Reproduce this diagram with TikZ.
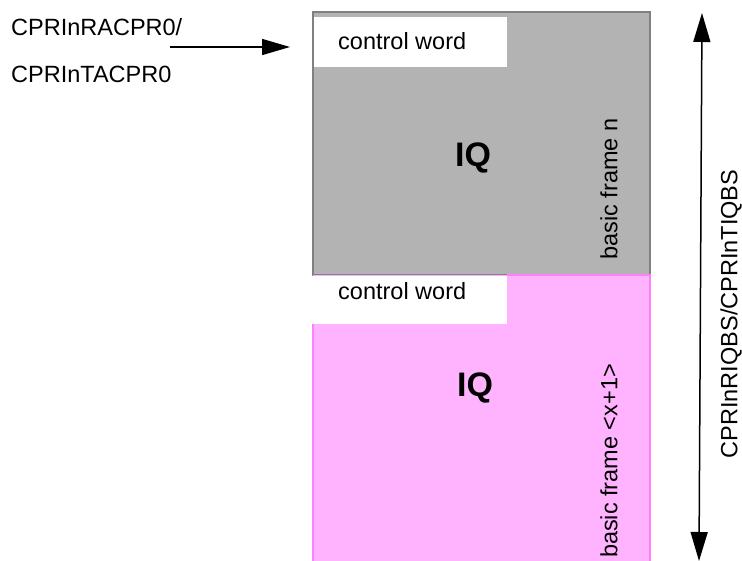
\documentclass[tikz,border=0pt]{standalone}
\usepackage{fontspec}
\setmainfont{Liberation Sans}
\usetikzlibrary{arrows.meta}
\definecolor{grayfill}{HTML}{B3B3B3}
\definecolor{grayline}{HTML}{808080}
\definecolor{pinkfill}{HTML}{FFB3FF}
\definecolor{pinkline}{HTML}{FF80FF}
\begin{document}
\begin{tikzpicture}[x=1pt,y=-1pt,
  lbl/.style={inner sep=0pt,font=\fontsize{23.5}{28}\selectfont},
  iq/.style={inner sep=0pt,font=\fontsize{34}{40}\selectfont\bfseries},
  arr/.style={line width=1.5pt,-{Triangle[length=28pt,width=16pt]}},
  darr/.style={line width=1.5pt,{Triangle[length=29pt,width=17pt]}-{Triangle[length=29pt,width=17pt]}}]
\useasboundingbox (0,0) rectangle (742,561);
% gray frame
\draw[fill=grayfill,draw=grayline,line width=2pt] (313,12) rectangle (650,275);
\fill[white] (314,17) rectangle (507,67);
% pink frame
\fill[pinkfill] (313,275) rectangle (650,562);
\fill[white] (312,276) rectangle (507,324);
\draw[pinkline,line width=1.5pt] (313,562) -- (313,324);
\draw[pinkline,line width=1.5pt] (507,275) -- (650,275) -- (650,562);
% texts
\node[lbl,anchor=base west] (cw1) at (338,50) {control word};
\node[lbl,anchor=base west] (cw2) at (338,300) {control word};
\node[iq,anchor=base west] (iq1) at (455,167) {IQ};
\node[iq,anchor=base west] (iq2) at (457,396) {IQ};
\node[lbl,rotate=90] (bfn) at (609,189) {basic frame n};
\node[lbl,rotate=90] (bfx) at (609,461) {basic frame <x+1>};
\node[lbl,anchor=base west] (ra) at (11,36) {CPRInRACPR0/};
\node[lbl,anchor=base west] (ta) at (11,83) {CPRInTACPR0};
\node[lbl,rotate=90] (iqbs) at (731,314) {CPRInRIQBS/CPRInTIQBS};
% arrows
\coordinate (as) at (170,47);
\coordinate (ae) at (290,47);
\draw[arr] (as) -- (ae);
\coordinate (dt) at (702,13);
\coordinate (db) at (699,561);
\draw[darr] (dt) -- (db);
\end{tikzpicture}
\end{document}
